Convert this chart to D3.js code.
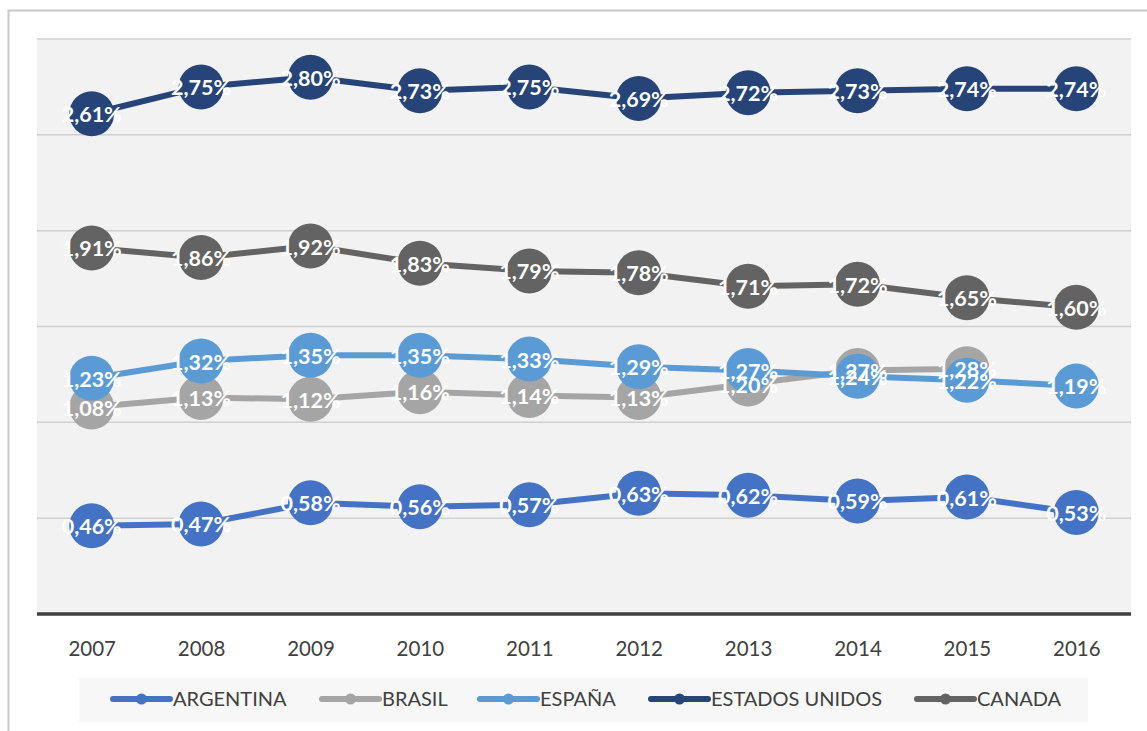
<!DOCTYPE html>
<html>
<head>
<meta charset="utf-8">
<script src="https://cdn.jsdelivr.net/npm/d3@7"></script>
<style>
  body { margin: 0; background: #fff; }
  svg { display: block; font-family: Lato, "Open Sans", sans-serif; }
</style>
</head>
<body>
<div id="chart"></div>
<script>
const years = ["2007", "2008", "2009", "2010", "2011", "2012", "2013", "2014", "2015", "2016"];
const argentina = [0.46, 0.47, 0.58, 0.56, 0.57, 0.63, 0.62, 0.59, 0.61, 0.53];
const brasil = [1.08, 1.13, 1.12, 1.16, 1.14, 1.13, 1.20, 1.27, 1.28, null];
const espana = [1.23, 1.32, 1.35, 1.35, 1.33, 1.29, 1.27, 1.24, 1.22, 1.19];
const eeuu = [2.61, 2.75, 2.80, 2.73, 2.75, 2.69, 2.72, 2.73, 2.74, 2.74];
const canada = [1.91, 1.86, 1.92, 1.83, 1.79, 1.78, 1.71, 1.72, 1.65, 1.60];
const gridValues = [0.5, 1, 1.5, 2, 2.5, 3];

const series = [
  { name: "ARGENTINA", values: argentina, color: "#4472C4" },
  { name: "BRASIL", values: brasil, color: "#A5A5A5" },
  { name: "ESPAÑA", values: espana, color: "#5B9BD5" },
  { name: "ESTADOS UNIDOS", values: eeuu, color: "#264478" },
  { name: "CANADA", values: canada, color: "#636363" }
];

const W = 1147, H = 731;
const plot = { left: 37, right: 1131, top: 39, bottom: 614 };

const svg = d3.select("#chart").append("svg")
  .attr("width", W)
  .attr("height", H);

// outer frame
svg.append("path")
  .attr("d", "M8.5," + H + "V10.5H" + W)
  .attr("fill", "none")
  .attr("stroke", "#c8c8c8")
  .attr("stroke-width", 2);

// scales
const x = d3.scalePoint()
  .domain(years)
  .range([plot.left, plot.right])
  .padding(0.5);

const y = d3.scaleLinear()
  .domain([0, 3])
  .range([plot.bottom, plot.top]);

// plot background
svg.append("rect")
  .attr("x", plot.left)
  .attr("y", plot.top)
  .attr("width", plot.right - plot.left)
  .attr("height", plot.bottom - plot.top)
  .attr("fill", "#f2f2f2");

// gridlines
svg.selectAll(".grid")
  .data(gridValues)
  .enter()
  .append("line")
  .attr("class", "grid")
  .attr("x1", plot.left)
  .attr("x2", plot.right)
  .attr("y1", (d) => y(d))
  .attr("y2", (d) => y(d))
  .attr("stroke", "#d0d0d0")
  .attr("stroke-width", 1.5);

// x axis
const xAxis = svg.append("g")
  .attr("transform", "translate(0," + plot.bottom + ")")
  .call(d3.axisBottom(x).tickSize(0).tickPadding(27));
xAxis.select(".domain")
  .attr("d", "M" + plot.left + ",0H" + plot.right)
  .attr("stroke", "#404040")
  .attr("stroke-width", 3.5);
xAxis.selectAll("text")
  .attr("font-family", "Lato, sans-serif")
  .attr("font-size", 20.5)
  .attr("fill", "#404040");

const line = d3.line()
  .defined((d) => d != null)
  .x((d, i) => x(years[i]))
  .y((d) => y(d));

// lines and markers
series.forEach((s) => {
  const g = svg.append("g");
  g.append("path")
    .attr("d", line(s.values))
    .attr("fill", "none")
    .attr("stroke", s.color)
    .attr("stroke-width", 6)
    .attr("stroke-linejoin", "round");
  g.selectAll("circle")
    .data(s.values.map((v, i) => [years[i], v]).filter((d) => d[1] != null))
    .enter()
    .append("circle")
    .attr("cx", (d) => x(d[0]))
    .attr("cy", (d) => y(d[1]))
    .attr("r", 22.5)
    .attr("fill", s.color);
});

// data labels
series.forEach((s) => {
  svg.append("g").selectAll("text")
    .data(s.values.map((v, i) => [years[i], v]).filter((d) => d[1] != null))
    .enter()
    .append("text")
    .attr("x", (d) => x(d[0]))
    .attr("y", (d) => y(d[1]) + 8.5)
    .attr("text-anchor", "middle")
    .attr("font-family", "Lato, sans-serif")
    .attr("font-weight", "bold")
    .attr("font-size", 21.5)
    .attr("fill", "#fff")
    .text((d) => d[1].toFixed(2).replace(".", ",") + "%");
});

// legend
svg.append("rect")
  .attr("x", 79)
  .attr("y", 678)
  .attr("width", 1009)
  .attr("height", 44)
  .attr("fill", "#f7f7f7");

const legendX = [113, 322, 480, 651, 917];
const legend = svg.selectAll(".legend")
  .data(series)
  .enter()
  .append("g")
  .attr("class", "legend")
  .attr("transform", (d, i) => "translate(" + legendX[i] + ",699)");
legend.append("line")
  .attr("x1", 0)
  .attr("x2", 57)
  .attr("stroke", (d) => d.color)
  .attr("stroke-width", 6)
  .attr("stroke-linecap", "round");
legend.append("circle")
  .attr("cx", 28.5)
  .attr("r", 5.5)
  .attr("fill", (d) => d.color);
legend.append("text")
  .attr("x", 60)
  .attr("y", 7)
  .attr("font-size", 20)
  .attr("fill", "#404040")
  .text((d) => d.name);
</script>
</body>
</html>
